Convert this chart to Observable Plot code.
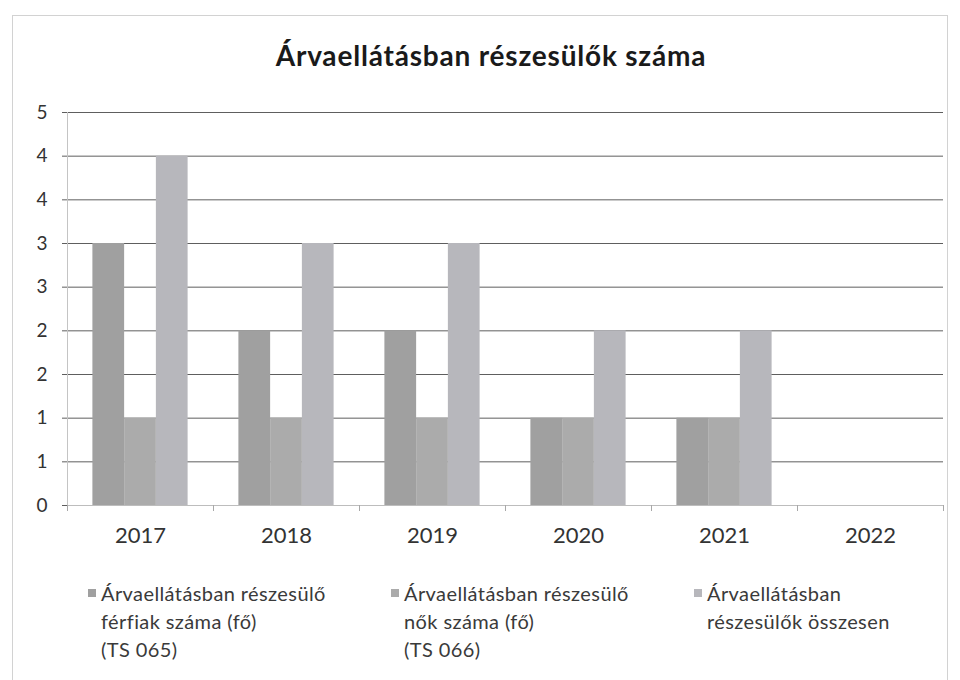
<!DOCTYPE html>
<html>
<head>
<meta charset="utf-8">
<script src="https://cdn.jsdelivr.net/npm/d3@7"></script>
<script src="https://cdn.jsdelivr.net/npm/@observablehq/plot@0.6"></script>
<style>
  body { margin: 0; background: #fff; font-family: Lato, "Open Sans", sans-serif; }
  #wrap { position: relative; width: 960px; height: 680px; overflow: hidden; background: #fff; }
  #border { position: absolute; left: 12px; top: 15px; width: 936px; height: 668px; border: 1px solid #d2d2d2; box-sizing: border-box; }
  #title { position: absolute; left: 11px; top: 38px; width: 960px; text-align: center; font-size: 28px; letter-spacing: 0.8px; font-weight: 700; color: #1a1a1a; }
  #chart { position: absolute; left: 0; top: 95px; }
  .leg { position: absolute; top: 579px; font-size: 20px; letter-spacing: 0.4px; line-height: 28px; color: #3a3a3a; }
  .leg .sw { position: absolute; left: -13px; top: 10px; width: 8px; height: 8px; }
</style>
</head>
<body>
<div id="wrap">
  <div id="border"></div>
  <div id="title"></div>
  <div id="chart"></div>
  <div id="legend"></div>
</div>
<script>
const titleText = "Árvaellátásban részesülők száma";
const years = ["2017", "2018", "2019", "2020", "2021", "2022"];
const seriesNames = [
  "Árvaellátásban részesülő férfiak száma (fő) (TS 065)",
  "Árvaellátásban részesülő nők száma (fő) (TS 066)",
  "Árvaellátásban részesülők összesen"
];
const legendLines = [
  ["Árvaellátásban részesülő", "férfiak száma (fő)", "(TS 065)"],
  ["Árvaellátásban részesülő", "nők száma (fő)", "(TS 066)"],
  ["Árvaellátásban", "részesülők összesen"]
];
const men = [3, 2, 2, 1, 1, 0];
const women = [1, 1, 1, 1, 1, 0];
const total = [4, 3, 3, 2, 2, 0];
const yTicks = [0, 0.5, 1, 1.5, 2, 2.5, 3, 3.5, 4, 4.5];
const yTickLabels = ["0", "1", "1", "2", "2", "3", "3", "4", "4", "5"];
const colors = ["#a0a0a0", "#ababab", "#b7b7bc"];

const values = [men, women, total];
const data = years.flatMap((y, i) => seriesNames.map((s, j) => ({year: y, series: s, value: values[j][i]})));

document.getElementById("title").textContent = titleText;

const W = 960, ML = 67, MR = 17, PAD_OUT = 0.8;
const facetStep = (W - ML - MR) / years.length;
const barStep = facetStep / (seriesNames.length + 2 * PAD_OUT);
const edgeOffset = PAD_OUT * barStep + barStep / 2;

const chart = Plot.plot({
  width: W,
  height: 460,
  marginLeft: ML,
  marginRight: MR,
  marginTop: 17,
  marginBottom: 50,
  style: {fontFamily: "Lato, 'Open Sans', sans-serif", background: "transparent"},
  fx: {domain: years, padding: 0, label: null, axis: null},
  x: {domain: seriesNames, paddingInner: 0, paddingOuter: PAD_OUT, round: false, axis: null},
  y: {domain: [0, 4.5], axis: null},
  color: {domain: seriesNames, range: colors},
  marks: [
    Plot.gridY(yTicks, {stroke: "#5e5e5e", strokeOpacity: 1, strokeWidth: 1}),
    Plot.barY(data, {fx: "year", x: "series", y: "value", fill: "series"}),
    Plot.ruleY([0], {stroke: "#bdbdbd", strokeWidth: 1}),
    Plot.frame({anchor: "left", facetAnchor: "left", stroke: "#c4c4c4"}),
    Plot.axisY({ticks: yTicks, tickFormat: d => yTickLabels[yTicks.indexOf(d)], tickSize: 5, tickPadding: 15, fontSize: 19, stroke: "#5e5e5e", color: "#333", label: null}),
    Plot.axisX({ticks: [seriesNames[0]], tickFormat: () => "", tickSize: 6, dx: -edgeOffset, stroke: "#a8a8a8", label: null}),
    Plot.axisX({ticks: [seriesNames[2]], tickFormat: () => "", tickSize: 6, dx: edgeOffset, stroke: "#a8a8a8", label: null}),
    Plot.axisFx({anchor: "bottom", tickSize: 0, tickPadding: 22, fontSize: 22, color: "#333", label: null})
  ]
});
document.getElementById("chart").appendChild(chart);

const legend = document.getElementById("legend");
const legX = [101, 404, 707];
legendLines.forEach((lines, i) => {
  const div = document.createElement("div");
  div.className = "leg";
  div.style.left = legX[i] + "px";
  const sw = document.createElement("span");
  sw.className = "sw";
  sw.style.background = colors[i];
  div.appendChild(sw);
  lines.forEach(l => {
    const ln = document.createElement("div");
    ln.textContent = l;
    div.appendChild(ln);
  });
  legend.appendChild(div);
});
</script>
</body>
</html>
